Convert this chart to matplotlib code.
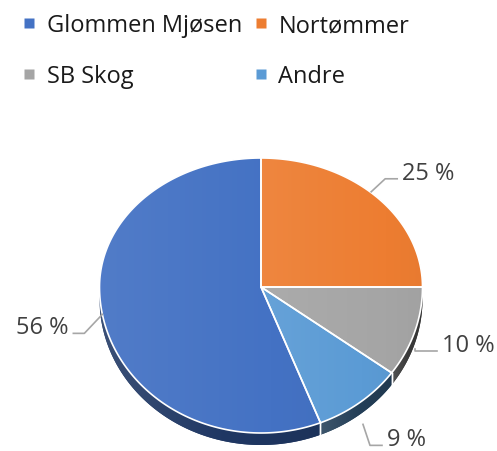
import numpy as np
import matplotlib.pyplot as plt
from matplotlib.lines import Line2D
from matplotlib.colors import to_rgb

plt.rcParams['font.family'] = ['Open Sans', 'DejaVu Sans']

# data
labels = ['Glommen Mjøsen', 'Nortømmer', 'SB Skog', 'Andre']
shares = [56, 25, 10, 9]
top_colors = ['#4472C4', '#ED7D31', '#A5A5A5', '#5B9BD5']
side_colors = ['#203864', '#8a4a1c', '#3a3a3a', '#243f58']
pct_labels = ['56 %', '25 %', '10 %', '9 %']

# pie geometry in pixels (perspective view)
cx, cy = 261, 288
rx, ry_top, ry_bot = 161.5, 129, 146
depth = 12

# label layout: elbow offset from anchor and horizontal run (+ right / - left)
elbow = [(-18, 19), (14, -13), (0, 2), (7, 21)]
run = [-11, 12, 22, 12]
anchor_push = [(0, 0), (-4, -4), (0, 17), (3, 22)]


def proj(t, r=1.0, z=0.0):
    t = np.asarray(t, dtype=float)
    s = np.sin(t)
    ry = np.where(s > 0, ry_top, ry_bot)
    return cx + rx * r * np.cos(t), cy - ry * r * s + z


def shade(c, f):
    c = np.array(to_rgb(c))
    if f >= 0:
        return c + (1 - c) * f
    return c * (1 + f)


def grad_fill(ax, xs, ys, c, light, dark, zorder):
    poly = ax.fill(xs, ys, facecolor=c, edgecolor='none', zorder=zorder)[0]
    x0, x1 = min(xs), max(xs)
    y0, y1 = min(ys), max(ys)
    n = 64
    img = np.zeros((2, n, 3))
    for i, f in enumerate(np.linspace(light, dark, n)):
        img[:, i, :] = shade(c, f)
    im = ax.imshow(img, extent=(x0, x1, y1, y0), aspect='auto',
                   interpolation='bilinear', zorder=zorder)
    im.set_clip_path(poly)
    return poly


fig = plt.figure(figsize=(4.97, 4.52), dpi=100)
ax = fig.add_axes([0, 0, 1, 1])
ax.set_xlim(0, 497)
ax.set_ylim(452, 0)
ax.axis('off')

fr = np.array(shares) / sum(shares)
# first slice ends at 12 o'clock, slices go clockwise
start_deg = 90 + fr[0] * 360
bounds = start_deg - np.concatenate([[0], np.cumsum(fr) * 360])
bounds = np.deg2rad(bounds)

# side walls (only the front half is visible)
for i in range(len(shares)):
    a, b = bounds[i], bounds[i + 1]
    t = np.linspace(b, a, 200)
    tn = np.mod(t, 2 * np.pi)
    vis = tn > np.pi
    if not vis.any():
        continue
    tv = t[vis]
    x1, y1 = proj(tv)
    x2, y2 = proj(tv[::-1], z=depth)
    grad_fill(ax, np.r_[x1, x2], np.r_[y1, y2], side_colors[i], 0.12, -0.1, 1)
    for tt in (tv[0], tv[-1]):
        if np.pi + 0.05 < np.mod(tt, 2 * np.pi) < 2 * np.pi - 0.05:
            xa, ya = proj(tt)
            ax.plot([xa, xa], [ya, ya + depth], color='white', lw=1, zorder=2)

# top faces
for i in range(len(shares)):
    a, b = bounds[i], bounds[i + 1]
    t = np.linspace(a, b, 200)
    xs, ys = proj(t)
    xs = np.r_[cx, xs]
    ys = np.r_[cy, ys]
    grad_fill(ax, xs, ys, top_colors[i], 0.07, -0.02, 3)
    ax.fill(xs, ys, facecolor='none', edgecolor='white', lw=1.2, zorder=4)

# percentage labels with leader lines
for i in range(len(shares)):
    mid = (bounds[i] + bounds[i + 1]) / 2
    x0, y0 = proj(mid)
    x0 += anchor_push[i][0]
    y0 += anchor_push[i][1]
    xe, ye = x0 + elbow[i][0], y0 + elbow[i][1]
    xr = xe + run[i]
    ax.plot([x0, xe, xr], [y0, ye, ye], color='#A6A6A6', lw=1.2, zorder=5)
    ha = 'left' if run[i] > 0 else 'right'
    ax.text(xr + (5 if run[i] > 0 else -5), ye, pct_labels[i], ha=ha,
            va='baseline', fontsize=17, color='#404040', zorder=6)

# legend filled row by row: reorder for matplotlib's column-major layout
order = [0, 2, 1, 3]
handles = [Line2D([], [], marker='s', ls='none', markersize=6.5,
                  markerfacecolor=top_colors[k], markeredgecolor='none')
           for k in order]
fig.legend(handles, [labels[k] for k in order], ncol=2, loc='upper left',
           bbox_to_anchor=(0.02, 0.995), frameon=False, fontsize=17,
           handlelength=0.6, handletextpad=0.45, columnspacing=0.5,
           labelspacing=1.15, borderaxespad=0.1, labelcolor='#1a1a1a')

fig.savefig('out.png', dpi=100)
